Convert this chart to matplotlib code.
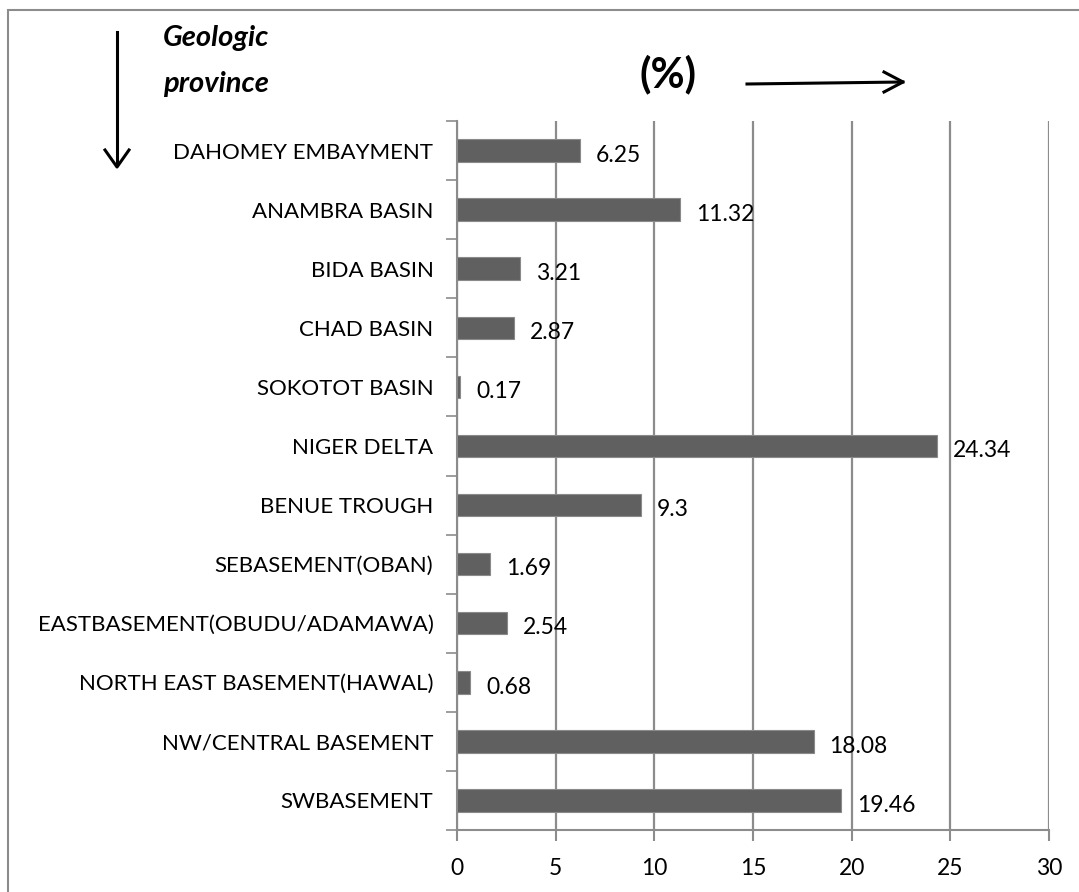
import matplotlib.pyplot as plt
import numpy as np
from matplotlib.patches import Rectangle

provinces = ['DAHOMEY EMBAYMENT', 'ANAMBRA BASIN', 'BIDA BASIN', 'CHAD BASIN',
             'SOKOTOT BASIN', 'NIGER DELTA', 'BENUE TROUGH', 'SEBASEMENT(OBAN)',
             'EASTBASEMENT(OBUDU/ADAMAWA)', 'NORTH EAST BASEMENT(HAWAL)',
             'NW/CENTRAL BASEMENT', 'SWBASEMENT']
percent = [6.25, 11.32, 3.21, 2.87, 0.17, 24.34, 9.3, 1.69, 2.54, 0.68, 18.08, 19.46]
value_labels = ['6.25', '11.32', '3.21', '2.87', '0.17', '24.34', '9.3', '1.69',
                '2.54', '0.68', '18.08', '19.46']
x_ticks = [0, 5, 10, 15, 20, 25, 30]

plt.rcParams['font.family'] = ['Lato', 'DejaVu Sans']

W, H = 1079, 892
fig = plt.figure(figsize=(W / 100, H / 100), dpi=100)

# axes box in pixels: left 457, right 1049, top 121, bottom 830
ax = fig.add_axes([457 / W, 1 - 830 / H, (1049 - 457) / W, (830 - 121) / H])

grid_c = '#8c8c8c'
y = np.arange(len(provinces))
ax.barh(y, percent, height=0.38, color='#606060', edgecolor='#8a8a8a', linewidth=0.8, zorder=3)

for yi, v, lab in zip(y, percent, value_labels):
    ax.text(v + 0.8, yi + 0.08, lab, va='center', ha='left', fontsize=16.5, color='black', zorder=4)

ax.set_xlim(0, 30)
ax.set_ylim(len(provinces) - 0.5, -0.5)
ax.set_xticks(x_ticks)
ax.set_xticklabels([str(t) for t in x_ticks], fontsize=16.5)
ax.set_yticks(y)
ax.set_yticklabels(provinces, fontsize=16)
ax.set_yticks(np.arange(-0.5, len(provinces)), minor=True)

ax.tick_params(axis='y', which='major', length=0, pad=17)
ax.tick_params(axis='y', which='minor', length=8, width=1.2, color=grid_c)
ax.tick_params(axis='x', which='major', length=8, width=1.5, color=grid_c, pad=12)

ax.grid(axis='x', color=grid_c, linewidth=1.6, zorder=0)
ax.set_axisbelow(True)
for s in ['top', 'right']:
    ax.spines[s].set_visible(False)
for s in ['left', 'bottom']:
    ax.spines[s].set_color(grid_c)
    ax.spines[s].set_linewidth(1.5)

# outer chart frame (only top and left edges visible)
fig.add_artist(Rectangle((8 / W, -0.05), 1.2, (H - 10) / H + 0.05, transform=fig.transFigure,
                         fill=False, edgecolor='#8c8c8c', linewidth=1.5))

# annotations
fig.text(163 / W, 1 - 38 / H, 'Geologic', fontsize=21, fontweight='bold', fontstyle='italic',
         ha='left', va='center')
fig.text(163 / W, 1 - 84 / H, 'province', fontsize=21, fontweight='bold', fontstyle='italic',
         ha='left', va='center')
fig.text(668 / W, 1 - 74 / H, '(%)', fontsize=30, fontweight='bold', ha='center', va='center')

fig.add_artist(plt.Line2D([117 / W, 117 / W], [1 - 32 / H, 1 - 165 / H], transform=fig.transFigure,
                          color='black', linewidth=2.2))
fig.add_artist(plt.Line2D([105 / W, 117 / W, 129 / W], [1 - 150 / H, 1 - 167 / H, 1 - 150 / H],
                          transform=fig.transFigure, color='black', linewidth=2.2))
fig.add_artist(plt.Line2D([747 / W, 903 / W], [1 - 84 / H, 1 - 82 / H], transform=fig.transFigure,
                          color='black', linewidth=2.2))
fig.add_artist(plt.Line2D([884 / W, 903 / W, 884 / W], [1 - 72 / H, 1 - 82 / H, 1 - 92 / H],
                          transform=fig.transFigure, color='black', linewidth=2.2))

fig.savefig('out.png', dpi=100)
